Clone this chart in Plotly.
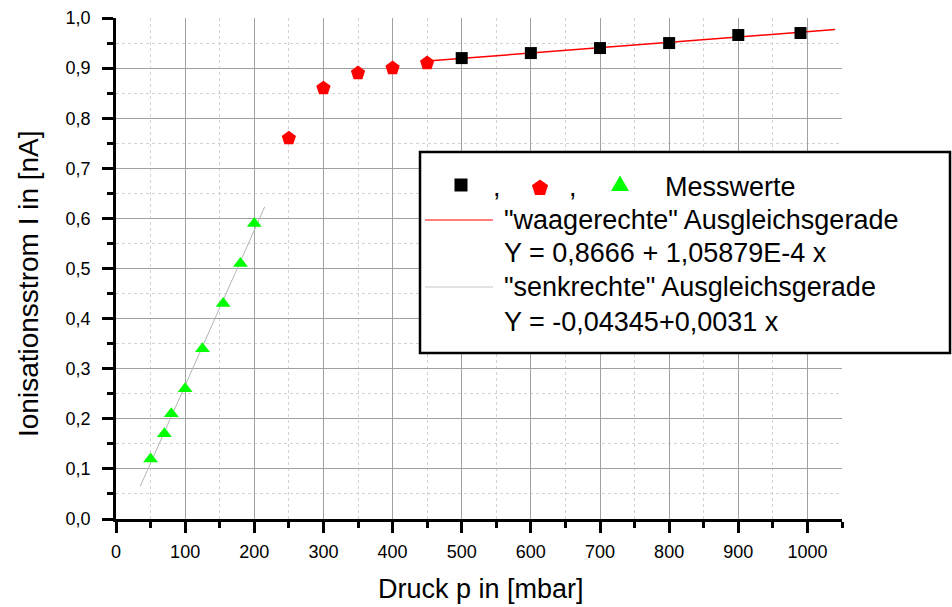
import math
import plotly.graph_objects as go

# ---- data ----
green_p = [50, 70, 80, 100, 125, 155, 180, 200]
green_i = [0.12, 0.17, 0.21, 0.26, 0.34, 0.43, 0.51, 0.59]

red_p = [250, 300, 350, 400, 450]
red_i = [0.76, 0.86, 0.89, 0.90, 0.91]

black_p = [500, 600, 700, 800, 900, 990]
black_i = [0.92, 0.93, 0.94, 0.95, 0.966, 0.970]

# fit lines (end points)
fit_h_p = [450, 1040]
fit_h_i = [0.914, 0.977]
fit_v_p = [35, 215]
fit_v_i = [0.065, 0.623]

x_tickvals = [0, 100, 200, 300, 400, 500, 600, 700, 800, 900, 1000]
x_ticktext = ["0", "100", "200", "300", "400", "500", "600", "700", "800", "900", "1000"]
y_tickvals = [0.0, 0.1, 0.2, 0.3, 0.4, 0.5, 0.6, 0.7, 0.8, 0.9, 1.0]
y_ticktext = ["0,0", "0,1", "0,2", "0,3", "0,4", "0,5", "0,6", "0,7", "0,8", "0,9", "1,0"]

legend_lines = [
    '"waagerechte" Ausgleichsgerade',
    'Y = 0,8666 + 1,05879E-4 x',
    '"senkrechte" Ausgleichsgerade',
    'Y = -0,04345+0,0031 x',
]

FONT = "Arial, Liberation Sans, sans-serif"
W, H = 952, 607
ML, MR, MT, MB = 116, 110, 18, 88
PW, PH = W - ML - MR, H - MT - MB

fig = go.Figure()

fig.add_trace(go.Scatter(x=fit_v_p, y=fit_v_i, mode="lines",
                         line=dict(color="#b4b4b4", width=1), showlegend=False))
fig.add_trace(go.Scatter(x=fit_h_p, y=fit_h_i, mode="lines",
                         line=dict(color="#ff0000", width=1.5), showlegend=False))
fig.add_trace(go.Scatter(x=green_p, y=green_i, mode="markers",
                         marker=dict(symbol="triangle-up", size=13, color="#00ff00"),
                         showlegend=False))
fig.add_trace(go.Scatter(x=red_p, y=red_i, mode="markers",
                         marker=dict(symbol="pentagon", size=15, color="#ff0000"),
                         showlegend=False))
fig.add_trace(go.Scatter(x=black_p, y=black_i, mode="markers",
                         marker=dict(symbol="square", size=12, color="#000000"),
                         showlegend=False))

axis_common = dict(
    showline=True, linecolor="black", linewidth=2.5,
    ticks="outside", ticklen=11, tickwidth=2.5, tickcolor="black",
    showgrid=True, gridcolor="#a0a0a0", gridwidth=1,
    zeroline=False,
    tickfont=dict(family=FONT, size=18, color="black"),
    tickmode="array",
)

fig.update_layout(
    width=W, height=H,
    margin=dict(l=ML, r=MR, t=MT, b=MB, autoexpand=False),
    paper_bgcolor="white", plot_bgcolor="white",
    showlegend=False,
    xaxis=dict(range=[0, 1050], tickvals=x_tickvals, ticktext=x_ticktext,
               minor=dict(tickmode="linear", tick0=0, dtick=50, ticklen=6, tickwidth=2.5,
                          tickcolor="black", ticks="outside", showgrid=True,
                          gridcolor="#d2d2d2", griddash="dot", gridwidth=1),
               ticklabelstandoff=4, **axis_common),
    yaxis=dict(range=[0, 1.0], tickvals=y_tickvals, ticktext=y_ticktext,
               minor=dict(tickmode="linear", tick0=0, dtick=0.05, ticklen=6, tickwidth=2.5,
                          tickcolor="black", ticks="outside", showgrid=True,
                          gridcolor="#d2d2d2", griddash="dot", gridwidth=1),
               ticklabelstandoff=8, **axis_common),
)


def px2paper(px, py):
    return (px - ML) / PW, (H - MB - py) / PH


# legend box
bx0, by0 = px2paper(420, 353)
bx1, by1 = px2paper(950, 152)
fig.add_shape(type="rect", xref="paper", yref="paper", x0=bx0, x1=bx1, y0=by0, y1=by1,
              fillcolor="white", line=dict(color="black", width=2.5), layer="above")


def poly_path(cx, cy, pts):
    segs = []
    for i, (dx, dy) in enumerate(pts):
        x, y = px2paper(cx + dx, cy + dy)
        segs.append(("M" if i == 0 else "L") + f"{x:.5f},{y:.5f}")
    return " ".join(segs) + " Z"


# legend sample symbols (pixel geometry)
sq = [(-6.5, -6.5), (6.5, -6.5), (6.5, 6.5), (-6.5, 6.5)]
pent = [(8.5 * math.sin(2 * math.pi * k / 5), -8.5 * math.cos(2 * math.pi * k / 5)) for k in range(5)]
tri = [(0, -8.5), (9, 7), (-9, 7)]
for (cx, cy), pts, col in [((461, 185), sq, "#000000"), ((540, 188), pent, "#ff0000"),
                           ((620, 184), tri, "#00ff00")]:
    fig.add_shape(type="path", xref="paper", yref="paper", path=poly_path(cx, cy, pts),
                  fillcolor=col, line=dict(width=0), layer="above")

# legend line samples
lx0, ly_r = px2paper(425, 220)
lx1, _ = px2paper(493, 220)
_, ly_g = px2paper(425, 287)
fig.add_shape(type="line", xref="paper", yref="paper", x0=lx0, x1=lx1,
              y0=ly_r, y1=ly_r, line=dict(color="#ff0000", width=1.2), layer="above")
fig.add_shape(type="line", xref="paper", yref="paper", x0=lx0, x1=lx1,
              y0=ly_g, y1=ly_g, line=dict(color="#c8c8c8", width=1.2), layer="above")

LEG_FONT = dict(family=FONT, size=27, color="black")
ann = []
c1x, rowy = px2paper(497, 187)
c2x, _ = px2paper(573, 187)
mx, _ = px2paper(663, 187)
ann.append(dict(text=",", x=c1x, y=rowy, xanchor="center", yanchor="middle"))
ann.append(dict(text=",", x=c2x, y=rowy, xanchor="center", yanchor="middle"))
ann.append(dict(text="Messwerte", x=mx, y=rowy, xanchor="left", yanchor="middle"))
tx, _ = px2paper(502, 0)
for txt, py in zip(legend_lines, [220, 253, 287, 322]):
    ann.append(dict(text=txt, x=tx, y=px2paper(0, py)[1], xanchor="left", yanchor="middle"))
for a in ann:
    fig.add_annotation(xref="paper", yref="paper", showarrow=False, font=LEG_FONT, **a)

# axis titles
ytx, yty = px2paper(28, 284)
fig.add_annotation(text="Ionisationsstrom I in [nA]", xref="paper", yref="paper",
                   x=ytx, y=yty, textangle=-90, showarrow=False,
                   xanchor="center", yanchor="middle",
                   font=dict(family=FONT, size=28, color="black"))
xtx, xty = px2paper(481, 589)
fig.add_annotation(text="Druck p in [mbar]", xref="paper", yref="paper",
                   x=xtx, y=xty, showarrow=False,
                   xanchor="center", yanchor="middle",
                   font=dict(family=FONT, size=27, color="black"))

fig.write_html("out.html",
               config={"displayModeBar": False},
               post_script="document.body.style.margin='0';document.body.style.overflow='hidden';")
